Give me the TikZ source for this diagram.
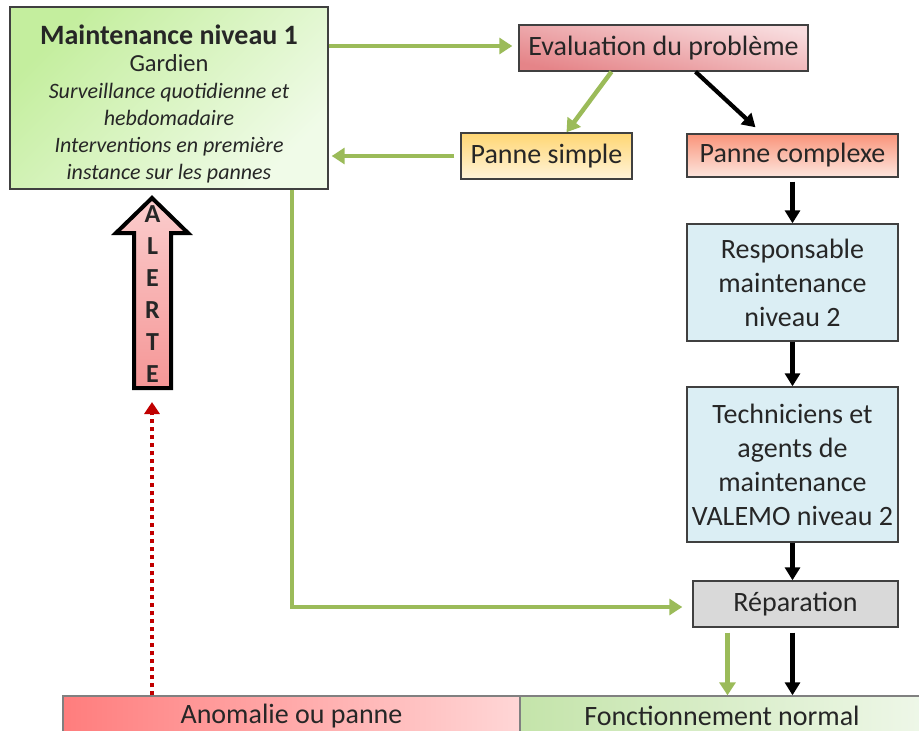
\documentclass[tikz,border=0pt]{standalone}
\usepackage{fontspec}
\setmainfont{Carlito}
\usetikzlibrary{arrows.meta,calc}
\definecolor{garrow}{HTML}{9BBB59}
\definecolor{boxborder}{HTML}{404040}
\definecolor{blueboxfill}{HTML}{DBEEF4}
\definecolor{grayboxfill}{HTML}{D9D9D9}
\definecolor{dotred}{HTML}{C00000}
\tikzset{
  box/.style={draw=boxborder, line width=1.4pt, inner sep=0pt, align=center,
    font=\fontsize{28}{34}\selectfont, text=black!85},
  garr/.style={draw=garrow, line width=4.5pt, -{Triangle[length=13pt,width=16pt]}},
  barr/.style={draw=black, line width=4.2pt, -{Triangle[length=13pt,width=15pt]}},
  redarr/.style={draw=dotred, line width=4pt, dash pattern=on 4pt off 4pt,
    -{Triangle[length=12pt,width=15pt]}},
}
\begin{document}
\begin{tikzpicture}[x=1pt,y=-1pt]
\useasboundingbox (0,0) rectangle (919,731);

% boxes
\node[box, minimum width=318pt, minimum height=182pt,
  top color={rgb,255:red,196;green,238;blue,158}, bottom color={rgb,255:red,240;green,251;blue,232},
  shading angle=45] (m1) at (169,98) {};
\node[inner sep=0pt, align=center, text=black!85, font=\fontsize{22}{27}\selectfont] (m1txt) at (169,104)
  {{\fontsize{28}{27}\selectfont\bfseries Maintenance niveau 1}\\
   {\fontsize{24.5}{27}\selectfont Gardien}\\
   \itshape Surveillance quotidienne et\\
   \itshape hebdomadaire\\
   \itshape Interventions en première\\
   \itshape instance sur les pannes};

\node[box, minimum width=289pt, minimum height=46pt,
  top color={rgb,255:red,248;green,220;blue,222}, bottom color={rgb,255:red,229;green,132;blue,136},
  shading angle=-12] (eval) at (663.5,48) {Evaluation du problème};

\node[box, minimum width=171pt, minimum height=46pt,
  top color={rgb,255:red,255;green,214;blue,115}, bottom color={rgb,255:red,255;green,244;blue,218}]
  (simple) at (546.5,156) {Panne simple};

\node[box, minimum width=211pt, minimum height=43pt,
  top color={rgb,255:red,249;green,148;blue,122}, bottom color={rgb,255:red,253;green,230;blue,222}]
  (complexe) at (792.5,155.5) {Panne complexe};

\node[box, fill=blueboxfill, minimum width=211pt, minimum height=117pt] (resp) at (792.5,282.5)
  {Responsable\\maintenance\\niveau 2};

\node[box, fill=blueboxfill, minimum width=211pt, minimum height=155pt] (tech) at (792.5,464.5)
  {Techniciens et\\agents de\\maintenance\\VALEMO niveau 2};

\node[box, fill=grayboxfill, minimum width=205pt, minimum height=46pt] (rep) at (795.5,604) {Réparation};

\node[box, draw=gray, minimum width=457pt, minimum height=40pt,
  left color={rgb,255:red,255;green,125;blue,125}, right color={rgb,255:red,255;green,214;blue,214}]
  (anom) at (291.5,716) {Anomalie ou panne};

\node[box, draw=gray, minimum width=404pt, minimum height=40pt,
  left color={rgb,255:red,196;green,228;blue,170}, right color={rgb,255:red,238;green,247;blue,232}]
  (fonct) at (722,716) {Fonctionnement normal};

% ALERTE block arrow
\path[draw=black, line width=4pt, line join=miter,
  top color={rgb,255:red,251;green,205;blue,205}, bottom color={rgb,255:red,245;green,150;blue,150}]
  (134,388) -- (134,233) -- (116,233) -- (152,198) -- (188,233) -- (171,233) -- (171,388) -- cycle;
\node[inner sep=0pt, align=center, font=\fontsize{26}{32}\selectfont\bfseries, text=black!85]
  (alerte) at (152.5,294) {A\\L\\E\\R\\T\\E};
\coordinate (alertbot) at (152,388);

% connectors
\draw[garr] (m1.east |- 0,46) -- ([xshift=-6pt]eval.west |- 0,46);
\draw[garr] ([xshift=-52pt]eval.south) -- ([xshift=20pt]simple.north);
\draw[barr] ([xshift=32pt]eval.south) -- ([xshift=-37pt,yshift=6pt]complexe.north);
\draw[garr] ([xshift=-6pt]simple.west) -- ([xshift=3pt]m1.east |- simple.west);
\draw[barr] ([yshift=-4pt]complexe.south) -- (resp.north);
\draw[barr] (resp.south) -- (tech.north);
\draw[barr] (tech.south) -- (tech.south |- rep.north);
\draw[garr] ([xshift=123pt]m1.south) |- ([xshift=-10pt,yshift=-3pt]rep.west);
\draw[garr] ([xshift=-68pt,yshift=-5pt]rep.south) -- ([xshift=-68pt]rep.south |- fonct.north);
\draw[barr] ([yshift=-5pt]rep.south -| tech.south) -- (tech.south |- fonct.north);
\draw[redarr] (anom.north -| alertbot) -- ($(alertbot)+(0,14)$);
\end{tikzpicture}
\end{document}
